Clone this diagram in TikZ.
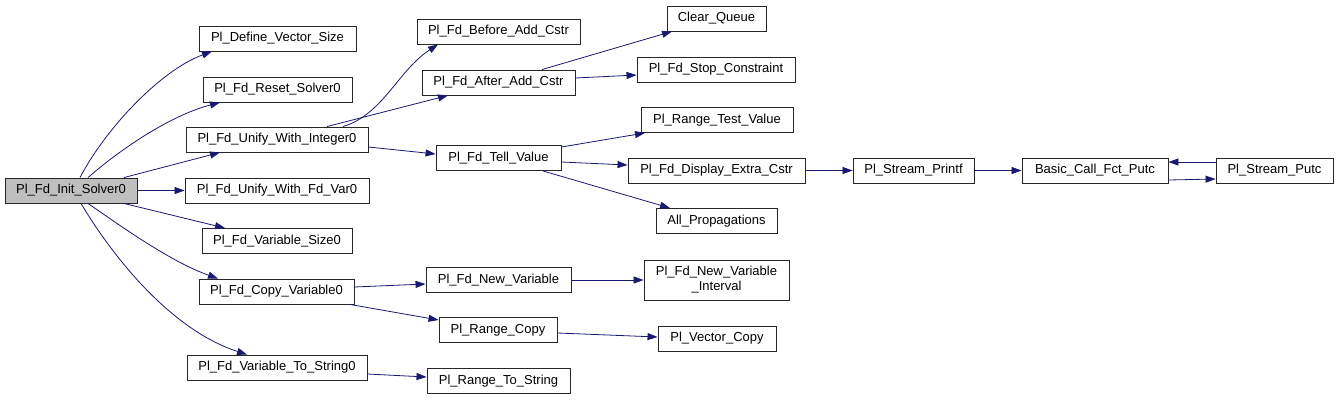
\documentclass[tikz,border=0pt]{standalone}
\usepackage{fontspec}
\setmainfont{Liberation Sans}
\usetikzlibrary{arrows.meta}
\definecolor{edgeblue}{HTML}{191970}
\tikzset{
  fn/.style={draw=black!85, line width=0.9pt, fill=white, inner sep=0pt, minimum height=25pt,
    font=\fontsize{13}{15}\selectfont, align=center},
  root/.style={fn, fill=gray!50},
  e/.style={draw=edgeblue, line width=0.8pt, -{Triangle[length=10pt,width=7pt]}}
}
\begin{document}
\begin{tikzpicture}[x=1pt,y=-1pt]
\useasboundingbox (0,0) rectangle (1339,400);
% column 0
\node[root, minimum width=132pt] (init) at (71,190.5) {Pl\_Fd\_Init\_Solver0};
% column 1
\node[fn, minimum width=157pt] (define) at (277.5,38.5) {Pl\_Define\_Vector\_Size};
\node[fn, minimum width=149pt] (reset) at (277.5,89.5) {Pl\_Fd\_Reset\_Solver0};
\node[fn, minimum width=182pt] (unifyint) at (277,139.5) {Pl\_Fd\_Unify\_With\_Integer0};
\node[fn, minimum width=184pt] (unifyfd) at (277,190.5) {Pl\_Fd\_Unify\_With\_Fd\_Var0};
\node[fn, minimum width=150pt] (varsize) at (277,241) {Pl\_Fd\_Variable\_Size0};
\node[fn, minimum width=155pt] (copyvar) at (276.5,291.5) {Pl\_Fd\_Copy\_Variable0};
\node[fn, minimum width=180pt] (tostr) at (277,367.5) {Pl\_Fd\_Variable\_To\_String0};
% column 2
\node[fn, minimum width=163pt] (before) at (498.5,31.5) {Pl\_Fd\_Before\_Add\_Cstr};
\node[fn, minimum width=153pt] (after) at (498.5,82.5) {Pl\_Fd\_After\_Add\_Cstr};
\node[fn, minimum width=125pt] (tell) at (498.5,158) {Pl\_Fd\_Tell\_Value};
\node[fn, minimum width=145pt] (newvar) at (498.5,280) {Pl\_Fd\_New\_Variable};
\node[fn, minimum width=118pt] (rcopy) at (498,330) {Pl\_Range\_Copy};
\node[fn, minimum width=143pt] (rtostr) at (498.5,381) {Pl\_Range\_To\_String};
% column 3
\node[fn, minimum width=99pt] (clear) at (716.5,18.5) {Clear\_Queue};
\node[fn, minimum width=158pt] (stop) at (716,69.5) {Pl\_Fd\_Stop\_Constraint};
\node[fn, minimum width=152pt] (rtest) at (717,120) {Pl\_Range\_Test\_Value};
\node[fn, minimum width=177pt] (display) at (716.5,170.5) {Pl\_Fd\_Display\_Extra\_Cstr};
\node[fn, minimum width=121pt] (allprop) at (716.5,221) {All\_Propagations};
\node[fn, minimum width=145pt, minimum height=40pt] (nvi) at (716.5,280) {Pl\_Fd\_New\_Variable\\\_Interval};
\node[fn, minimum width=118pt] (vcopy) at (717,338.5) {Pl\_Vector\_Copy};
% columns 4-6
\node[fn, minimum width=121pt] (printf) at (913.5,170.5) {Pl\_Stream\_Printf};
\node[fn, minimum width=146pt] (basic) at (1095,170.5) {Basic\_Call\_Fct\_Putc};
\node[fn, minimum width=117pt] (putc) at (1274.5,170.5) {Pl\_Stream\_Putc};
% edges from init
\draw[e] ([shift={(9,0)}]init.north) .. controls +(25,-48) and +(-52,19) .. ([shift={(-65.5,0)}]define.south);
\draw[e] ([shift={(17,0)}]init.north) .. controls +(32,-28) and +(-50,13) .. ([shift={(-57.5,0)}]reset.south);
\draw[e] ([shift={(53,0)}]init.north) -- ([shift={(-57,0)}]unifyint.south);
\draw[e] (init.east) -- (unifyfd.west);
\draw[e] ([shift={(53,0)}]init.south) -- ([shift={(-52,0)}]varsize.north);
\draw[e] ([shift={(17,0)}]init.south) .. controls +(32,22) and +(-48,-17) .. ([shift={(-58.5,0)}]copyvar.north);
\draw[e] ([shift={(10,0)}]init.south) .. controls +(31,52) and +(-77,-25) .. ([shift={(-30,0)}]tostr.north);
% edges from unifyint
\draw[e] ([shift={(66,0)}]unifyint.north) .. controls +(40,-12) and +(-40,26) .. ([shift={(-60.5,0)}]before.south);
\draw[e] ([shift={(50,0)}]unifyint.north) -- ([shift={(-50.5,0)}]after.south);
\draw[e] ([shift={(0,7.5)}]unifyint.east) -- ([shift={(0,-4)}]tell.west);
% edges from after
\draw[e] ([shift={(43.5,0)}]after.north) -- ([shift={(-44.5,0)}]clear.south);
\draw[e] ([shift={(0,-4.5)}]after.east) -- ([shift={(0,5.5)}]stop.west);
% edges from tell
\draw[e] ([shift={(0,-11)}]tell.east) -- ([shift={(-72,0)}]rtest.south);
\draw[e] ([shift={(0,4)}]tell.east) -- ([shift={(0,-5.5)}]display.west);
\draw[e] ([shift={(44.5,0)}]tell.south) -- ([shift={(-46.5,0)}]allprop.north);
% printf chain
\draw[e] (display.east) -- (printf.west);
\draw[e] (printf.east) -- (basic.west);
\draw[e] ([shift={(0,-8.5)}]putc.west) -- ([shift={(0,-8.5)}]basic.east);
\draw[e] ([shift={(0,9.5)}]basic.east) -- ([shift={(0,8.5)}]putc.west);
% copy variable
\draw[e] ([shift={(0,-4.5)}]copyvar.east) -- ([shift={(0,4)}]newvar.west);
\draw[e] ([shift={(73.5,0)}]copyvar.south) -- ([shift={(0,-10)}]rcopy.west);
\draw[e] (newvar.east) -- (nvi.west);
\draw[e] ([shift={(0,3)}]rcopy.east) -- ([shift={(0,-1.5)}]vcopy.west);
% to string
\draw[e] ([shift={(0,6.5)}]tostr.east) -- ([shift={(0,-4)}]rtostr.west);
\end{tikzpicture}
\end{document}
